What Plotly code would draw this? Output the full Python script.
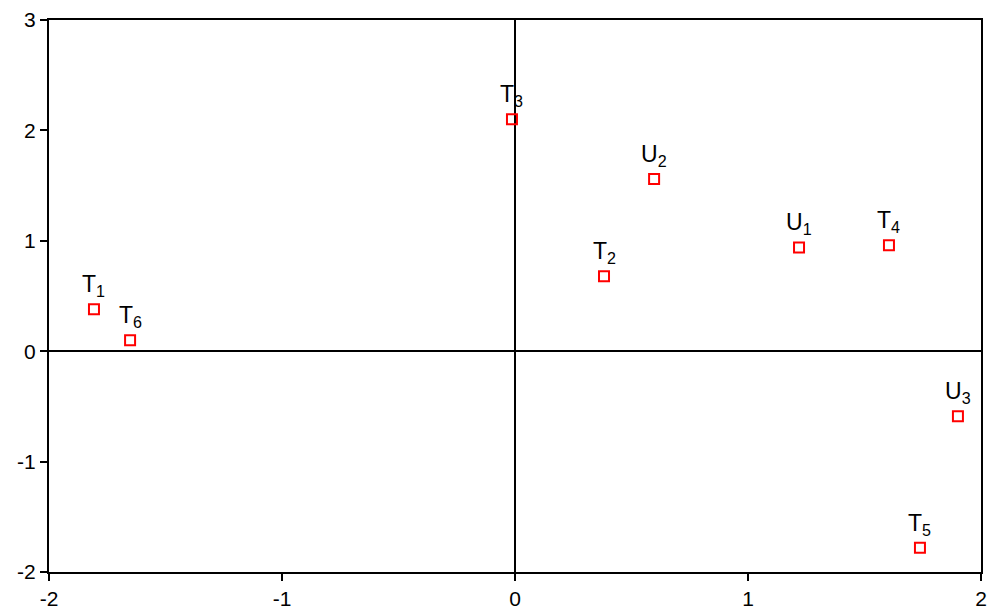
import plotly.graph_objects as go

labels = ["T<sub>1</sub>", "T<sub>6</sub>", "T<sub>3</sub>", "U<sub>2</sub>", "T<sub>2</sub>",
          "U<sub>1</sub>", "T<sub>4</sub>", "U<sub>3</sub>", "T<sub>5</sub>"]
x_vals = [-1.807, -1.652, -0.013, 0.597, 0.382, 1.219, 1.605, 1.901, 1.738]
y_vals = [0.38, 0.10, 2.10, 1.56, 0.68, 0.94, 0.96, -0.59, -1.78]

x_ticks = [-2, -1, 0, 1, 2]
y_ticks = [-2, -1, 0, 1, 2, 3]

FONT = "Liberation Sans, Arial"

fig = go.Figure(go.Scatter(
    x=x_vals, y=y_vals, mode="markers",
    marker=dict(symbol="square-open", size=10, color="red", line=dict(width=2, color="red")),
    cliponaxis=False,
))

for lx, ly, lt in zip(x_vals, y_vals, labels):
    fig.add_annotation(x=lx, y=ly, text=lt, showarrow=False, yanchor="bottom", xanchor="center",
                       yshift=7, font=dict(size=23, color="black", family=FONT))

axis_common = dict(
    showgrid=False, zeroline=True, zerolinecolor="black", zerolinewidth=2,
    showline=True, linecolor="black", linewidth=2, mirror=True,
    ticks="outside", ticklen=7, tickwidth=2, tickcolor="black",
    tickfont=dict(size=21, color="black", family=FONT),
    automargin=False,
)

fig.update_xaxes(range=[-2, 2], tickvals=x_ticks, ticktext=[str(v) for v in x_ticks], **axis_common)
fig.update_yaxes(range=[-2, 3], tickvals=y_ticks, ticktext=[str(v) for v in y_ticks], **axis_common)

fig.update_layout(
    width=993, height=612,
    margin=dict(l=49, r=12, t=20, b=40),
    plot_bgcolor="white", paper_bgcolor="white",
    showlegend=False,
)

fig.write_html("out.html", config={"displayModeBar": False},
               post_script="document.body.style.margin='0';")
